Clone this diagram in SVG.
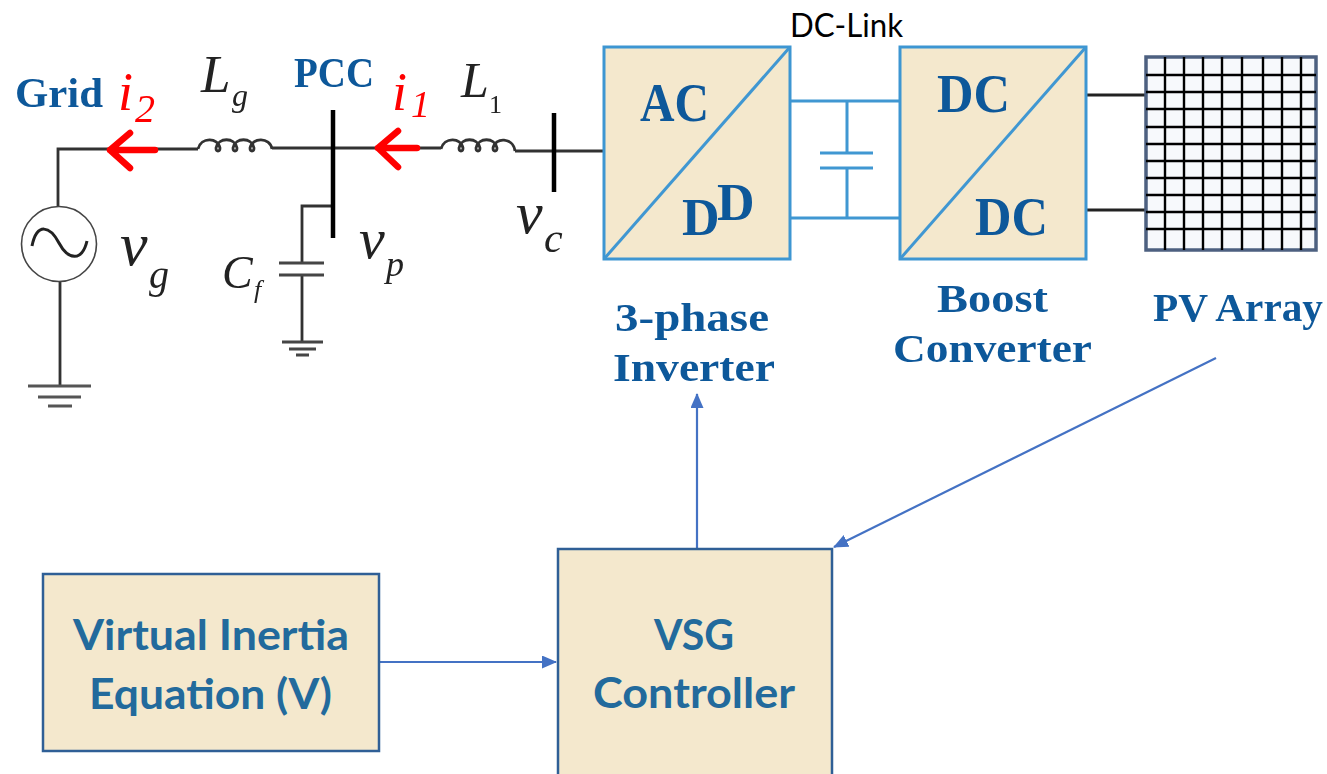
<svg xmlns="http://www.w3.org/2000/svg" width="1327" height="774" viewBox="0 0 1327 774">
<style>
.w{fill:none;stroke:#333;stroke-width:2.8}
.b{fill:none;stroke:#000;stroke-width:4.5}
.t{fill:none;stroke:#3f97d2;stroke-width:3}
.box{fill:#f4e8cd;stroke:#3c96d2;stroke-width:3}
.ctl{fill:#f4e8cd;stroke:#2f5f96;stroke-width:2.5}
.s{font-family:"Liberation Serif","DejaVu Serif",serif;font-weight:bold;fill:#11589a}
.l{font-family:"Lato","Open Sans",sans-serif;font-weight:bold;fill:#226a9c;font-size:42px}
.m{font-family:"Liberation Serif",serif;font-style:italic;fill:#222}
.red{fill:#f00}
.ra{fill:none;stroke:#f00;stroke-width:6.5;stroke-linecap:round;stroke-linejoin:round}
.c{fill:none;stroke:#4472c4;stroke-width:2.2}
.g{stroke:#000;stroke-width:2.4;fill:none}
.soft{filter:url(#soft)}
</style>
<defs>
<filter id="soft" x="-5%" y="-5%" width="110%" height="110%"><feGaussianBlur stdDeviation="0.6"/></filter>
<marker id="ah" markerWidth="16" markerHeight="14" refX="14" refY="6.5" orient="auto" markerUnits="userSpaceOnUse"><path d="M0,0L15,6.5L0,13Z" fill="#4472c4"/></marker>
</defs>
<g id="connectors">
<g class="soft">
<path class="w" d="M58,207V149H198M272,148H441M515,151H603"/>
<path class="w" d="M60,282V387"/>
<path class="w" d="M28,386H91M38,397H81M48,406H72" style="stroke:#555"/>
<path class="w" d="M333,206H302V263M302,275V341"/>
<path class="w" d="M279,263H324M279,275H324M282,342H323M289,349H316M296,355H309" style="stroke:#444"/>
<path class="w" d="M198,149c3,-12 20,-12 22,-1c0,4 -4,4 -4,0c2,-11 19,-11 21,0c0,4 -4,4 -4,0c2,-11 19,-11 21,0c0,4 -4,4 -4,0c2,-11 20,-11 22,1"/>
<path class="w" d="M441,149c3,-12 20,-12 22,-1c0,4 -4,4 -4,0c2,-11 19,-11 21,0c0,4 -4,4 -4,0c2,-11 19,-11 21,0c0,4 -4,4 -4,0c2,-11 20,-11 22,3"/>
<path class="b" d="M333,110V238M554,113V192"/>
<path class="ra" d="M155,150H110M130,133L110,150L130,168M417,148H378M398,131L378,148L398,167"/>
<path class="t" d="M790,101H900M790,218H900M847,101V153M847,168V218M820,153H873M820,168H873"/>
<path class="w" d="M1087,95H1145M1087,210H1165" style="stroke:#222"/>
</g>
<path class="c" marker-end="url(#ah)" d="M380,662H556"/>
<path class="c" marker-end="url(#ah)" d="M697,549V394"/>
<path class="c" marker-end="url(#ah)" d="M1216,358L834,547"/>
</g>
<g id="grid-source" class="soft">
<circle cx="59" cy="244" r="37.5" fill="#fff" stroke="#444" stroke-width="1.6"/>
<path d="M32,246C37,222 50,226 59,243C68,260 82,262 87,241" fill="none" stroke="#222" stroke-width="3"/>
<text class="s" x="15" y="107" font-size="42" textLength="88" lengthAdjust="spacingAndGlyphs">Grid</text>
<text class="m red" x="118" y="110" font-size="54" style="fill:#f00">i</text>
<text class="m" x="135" y="122" font-size="40" style="fill:#f00">2</text>
<text class="m" x="120" y="265" font-size="62">v</text>
<text class="m" x="149" y="288" font-size="40">g</text>
</g>
<g id="line-labels" class="soft">
<text class="m" x="201" y="92" font-size="53">L</text>
<text class="m" x="232" y="106" font-size="32">g</text>
<text class="s" x="294" y="87" font-size="42" textLength="80" lengthAdjust="spacingAndGlyphs">PCC</text>
<text class="m" x="392" y="110" font-size="54" style="fill:#f00">i</text>
<text class="m" x="411" y="117" font-size="38" style="fill:#f00">1</text>
<text class="m" x="461" y="97" font-size="50">L</text>
<text class="m" x="489" y="113" font-size="26" style="font-style:normal">1</text>
<text class="m" x="359" y="258" font-size="58">v</text>
<text class="m" x="386" y="276" font-size="36">p</text>
<text class="m" x="222" y="288" font-size="46">C</text>
<text class="m" x="254" y="298" font-size="26">f</text>
<text class="m" x="516" y="233" font-size="60">v</text>
<text class="m" x="544" y="252" font-size="42">c</text>
</g>
<g id="inverter" class="soft">
<rect class="box" x="604" y="47" width="186" height="212"/>
<path class="t" d="M604,259L790,47"/>
<text class="s" x="640" y="121" font-size="54" textLength="69" lengthAdjust="spacingAndGlyphs">AC</text>
<text class="s" x="682" y="235" font-size="52">D</text>
<text class="s" x="717" y="220" font-size="52">D</text>
<text class="s" x="615" y="331" font-size="41" textLength="154" lengthAdjust="spacingAndGlyphs">3-phase</text>
<text class="s" x="613" y="381" font-size="41" textLength="162" lengthAdjust="spacingAndGlyphs">Inverter</text>
</g>
<g id="dc-link">
<text x="790" y="37" font-family="Lato,'Open Sans',sans-serif" font-size="33" fill="#000" textLength="113" lengthAdjust="spacingAndGlyphs">DC-Link</text>
</g>
<g id="boost" class="soft">
<rect class="box" x="900" y="47" width="186" height="212"/>
<path class="t" d="M900,259L1086,47"/>
<text class="s" x="937" y="112" font-size="54" textLength="73" lengthAdjust="spacingAndGlyphs">DC</text>
<text class="s" x="975" y="235" font-size="54" textLength="73" lengthAdjust="spacingAndGlyphs">DC</text>
<text class="s" x="937" y="312" font-size="41" textLength="111" lengthAdjust="spacingAndGlyphs">Boost</text>
<text class="s" x="893" y="362" font-size="41" textLength="199" lengthAdjust="spacingAndGlyphs">Converter</text>
</g>
<g id="pv-array" class="soft">
<rect x="1146" y="57" width="170" height="193" fill="#f7f9fc" stroke="#4d6080" stroke-width="3.5"/>
<path class="g" d="M1165,57V250M1184,57V250M1203,57V250M1222,57V250M1242,57V250M1263,57V250M1282,57V250M1301,57V250M1146,75H1316M1146,92H1316M1146,109H1316M1146,127H1316M1146,144H1316M1146,161H1316M1146,178H1316M1146,195H1316M1146,212H1316M1146,229H1316"/>
<text class="s" x="1153" y="321" font-size="41" textLength="170" lengthAdjust="spacingAndGlyphs">PV Array</text>
</g>
<g id="virtual-inertia">
<rect class="ctl" x="43" y="574" width="336" height="177"/>
<text class="l" x="73" y="650" textLength="276" lengthAdjust="spacingAndGlyphs">Virtual Inertia</text>
<text class="l" x="89" y="709" textLength="243" lengthAdjust="spacingAndGlyphs">Equation (V)</text>
</g>
<g id="vsg-controller">
<rect class="ctl" x="558" y="549" width="274" height="240"/>
<text class="l" x="654" y="650" textLength="80" lengthAdjust="spacingAndGlyphs">VSG</text>
<text class="l" x="593" y="708" textLength="202" lengthAdjust="spacingAndGlyphs">Controller</text>
</g>
</svg>
